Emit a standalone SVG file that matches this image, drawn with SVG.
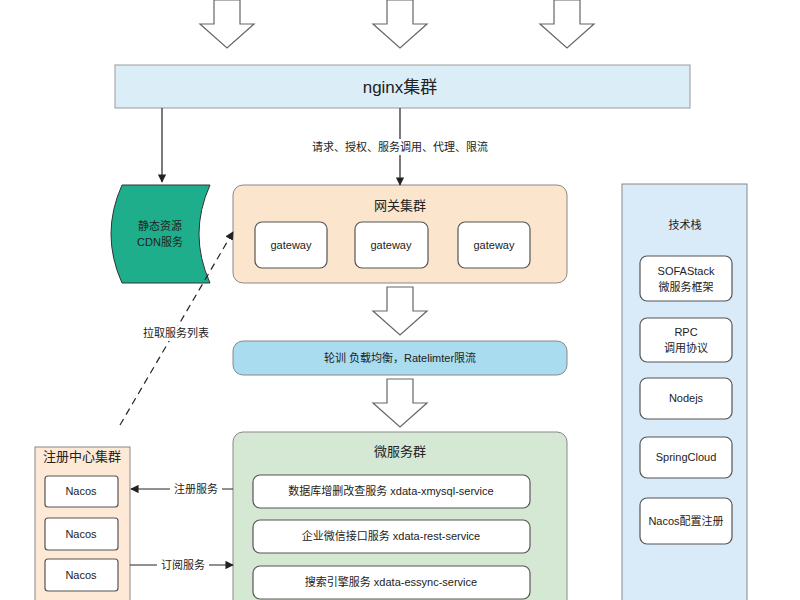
<svg xmlns="http://www.w3.org/2000/svg" width="800" height="600" viewBox="0 0 800 600">
<style>
text{font-family:"Liberation Sans","Noto Sans CJK SC",sans-serif;fill:#222;text-anchor:middle;dominant-baseline:central}
.s{font-size:11px}.m{font-size:13px}
.in{fill:#fff;stroke:#555;stroke-width:1.2}
.ba{fill:#fff;stroke:#666;stroke-width:1.2}
.c{stroke:#222;stroke-width:1.2;fill:none}
</style>
<defs><marker id="a" viewBox="0 0 10 10" refX="9" refY="5" markerWidth="7" markerHeight="7" orient="auto"><path d="M0,0L10,5L0,10z" fill="#222"/></marker>
<path id="blk" d="M-13,0H13V24H27L0,48L-27,24H-13z"/></defs>
<rect width="800" height="600" fill="#fff"/>
<g id="top-arrows"><use href="#blk" x="227" y="0" class="ba"/><use href="#blk" x="400" y="0" class="ba"/><use href="#blk" x="567" y="0" class="ba"/></g>
<g id="nginx"><rect x="115" y="65" width="575" height="43" fill="#dbeef8" stroke="#999"/><text x="400" y="87" style="font-size:17px">nginx集群</text></g>
<g id="cdn"><path d="M122,185H210Q188,234 210,283H122Q100,234 122,185z" fill="#1fae8c" stroke="#333"/><text x="160" y="226" class="s">静态资源</text><text x="160" y="242" class="s">CDN服务</text></g>
<g id="gateway-cluster"><rect x="233" y="185" width="334" height="98" rx="10" fill="#fbe5cc" stroke="#888"/><text x="400" y="205" class="m">网关集群</text>
<rect class="in" x="255" y="222" width="72" height="46" rx="7"/><text x="291" y="245" class="s">gateway</text>
<rect class="in" x="355" y="222" width="73" height="46" rx="7"/><text x="391" y="245" class="s">gateway</text>
<rect class="in" x="458" y="222" width="72" height="46" rx="7"/><text x="494" y="245" class="s">gateway</text></g>
<g id="arrow2"><use href="#blk" x="400" y="287" class="ba"/></g>
<g id="lb"><rect x="233" y="341" width="334" height="34" rx="10" fill="#a9dcef" stroke="#888"/><text x="400" y="358" class="s">轮训 负载均衡，Ratelimter限流</text></g>
<g id="arrow3"><use href="#blk" x="400" y="379" class="ba"/></g>
<g id="micro"><rect x="233" y="432" width="334" height="180" rx="10" fill="#d5e8d4" stroke="#888"/><text x="400" y="451" class="m">微服务群</text>
<rect class="in" x="253" y="475" width="277" height="33" rx="7"/><text x="391" y="491" class="s">数据库增删改查服务 xdata-xmysql-service</text>
<rect class="in" x="253" y="520" width="277" height="33" rx="7"/><text x="391" y="536" class="s">企业微信接口服务 xdata-rest-service</text>
<rect class="in" x="253" y="566" width="277" height="33" rx="7"/><text x="391" y="582" class="s">搜索引擎服务 xdata-essync-service</text></g>
<g id="registry"><rect x="35" y="447" width="95" height="170" fill="#fde9d5" stroke="#888"/><text x="82" y="456" class="m">注册中心集群</text>
<rect class="in" x="45" y="476" width="73" height="31" rx="3"/><text x="81" y="491" class="s">Nacos</text>
<rect class="in" x="45" y="518" width="73" height="32" rx="3"/><text x="81" y="534" class="s">Nacos</text>
<rect class="in" x="45" y="559" width="73" height="32" rx="3"/><text x="81" y="575" class="s">Nacos</text></g>
<g id="tech"><rect x="622" y="184" width="125" height="430" fill="#d9ebf8" stroke="#888"/><text x="685" y="225" class="s">技术栈</text>
<rect class="in" x="640" y="256" width="92" height="45" rx="7"/><text x="686" y="271" class="s">SOFAStack</text><text x="686" y="287" class="s">微服务框架</text>
<rect class="in" x="640" y="318" width="92" height="44" rx="7"/><text x="686" y="332" class="s">RPC</text><text x="686" y="348" class="s">调用协议</text>
<rect class="in" x="640" y="378" width="92" height="41" rx="7"/><text x="686" y="398" class="s">Nodejs</text>
<rect class="in" x="640" y="437" width="92" height="41" rx="7"/><text x="686" y="457" class="s">SpringCloud</text>
<rect class="in" x="640" y="498" width="92" height="46" rx="7"/><text x="686" y="521" class="s">Nacos配置注册</text></g>
<g id="connectors">
<path class="c" d="M162,108V182" marker-end="url(#a)"/>
<path class="c" d="M400,108V185" marker-end="url(#a)"/>
<rect x="300" y="139" width="200" height="16" fill="#fff"/><text x="400" y="147" class="s">请求、授权、服务调用、代理、限流</text>
<path class="c" d="M120,425L233,232" stroke-dasharray="7,5" marker-end="url(#a)"/>
<rect x="138" y="326" width="76" height="15" fill="#fff"/><text x="176" y="333" class="s">拉取服务列表</text>
<path class="c" d="M233,489H131" marker-end="url(#a)"/>
<rect x="170" y="482" width="52" height="15" fill="#fff"/><text x="196" y="489" class="s">注册服务</text>
<path class="c" d="M130,565H233" marker-end="url(#a)"/>
<rect x="157" y="558" width="52" height="15" fill="#fff"/><text x="183" y="565" class="s">订阅服务</text>
</g>
</svg>
